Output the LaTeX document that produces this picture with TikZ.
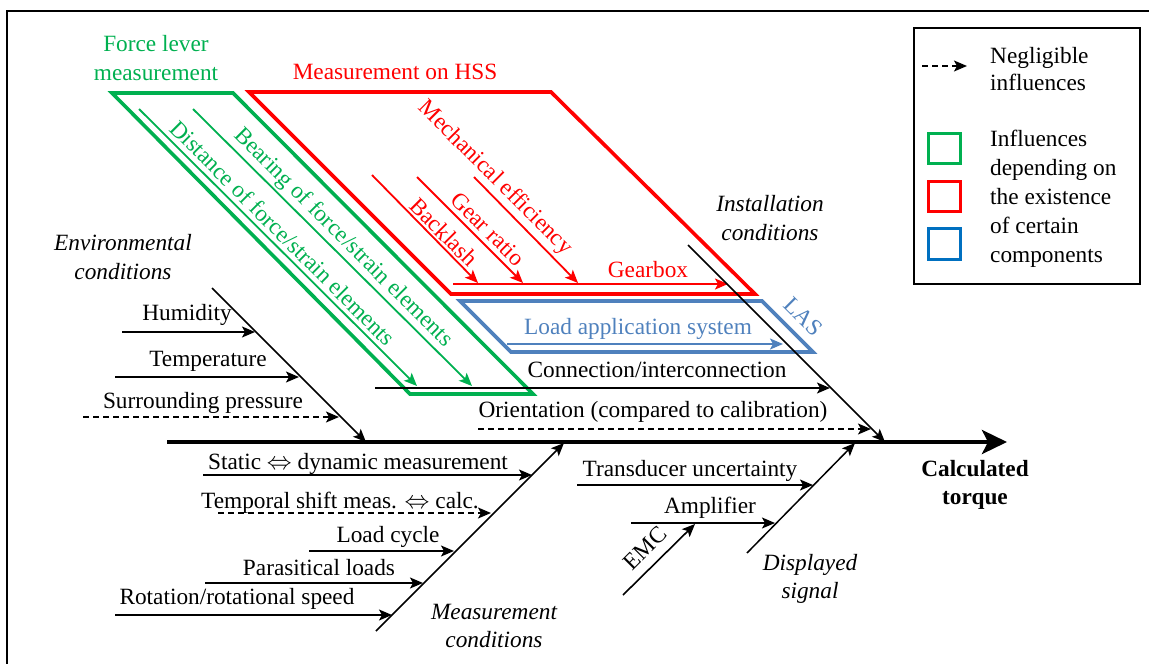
\documentclass[tikz,border=0pt]{standalone}
\usepackage{fontspec}
\setmainfont{Liberation Serif}
\usetikzlibrary{arrows.meta}
\definecolor{fgreen}{RGB}{0,176,80}
\definecolor{fred}{RGB}{255,0,0}
\definecolor{lasblue}{RGB}{79,129,189}
\definecolor{legblue}{RGB}{0,112,192}
\begin{document}
\begin{tikzpicture}[x=1pt,y=-1pt,
  font=\fontsize{23.3}{28.5}\selectfont,
  txt/.style={inner sep=0pt, anchor=center},
  tip/.style={-{Stealth[length=13pt,width=11pt,inset=3pt]}},
  bone/.style={line width=1.5pt, black},
  sub/.style={line width=1.6pt, black, tip},
  inner/.style={line width=1.8pt, tip},
  neg/.style={dash pattern=on 6pt off 4pt},
  pgram/.style={line width=3.6pt, line join=miter},
  legsq/.style={line width=3pt},
  ital/.style={font=\fontsize{23.3}{28.5}\selectfont\itshape, align=center}
]
\useasboundingbox (0,0) rectangle (1149,664);
% outer frame
\draw[line width=2pt] (7,664) -- (7,11) -- (1149,11);

% spine
\coordinate (sp0) at (167,442);
\coordinate (sp1) at (1007,442);
\draw[line width=4pt, -{Stealth[length=25pt,width=24pt,inset=6pt]}] (sp0) -- (sp1);
\node[txt, font=\fontsize{23.3}{28}\selectfont\bfseries, align=center] (ct) at (975,485) {Calculated\\torque};

% ---------- green: force lever measurement
\node[txt, fgreen, align=center] (flm) at (156,58) {Force lever\\measurement};
\draw[pgram, fgreen] (112,93) -- (233,93) -- (533,394) -- (410,394) -- cycle;
\coordinate (gd0) at (139,109); \coordinate (gd1) at (417,386);
\coordinate (gb0) at (193,109); \coordinate (gb1) at (472,386);
\draw[inner, fgreen] (gd0) -- (gd1);
\draw[inner, fgreen] (gb0) -- (gb1);
\node[txt, fgreen, rotate=-45] (gdt) at (283,233) {Distance of force/strain elements};
\node[txt, fgreen, rotate=-45] (gbt) at (343,238) {Bearing of force/strain elements};

% ---------- red: measurement on HSS
\node[txt, fred] (hss) at (395,72) {Measurement on HSS};
\draw[pgram, fred] (249,92) -- (551,92) -- (755,294) -- (451,294) -- cycle;
\coordinate (rb0) at (372,175); \coordinate (rb1) at (478,283);
\coordinate (rg0) at (417,177); \coordinate (rg1) at (523,283);
\coordinate (rm0) at (474,177); \coordinate (rm1) at (578,283);
\draw[inner, fred] (rb0) -- (rb1);
\draw[inner, fred] (rg0) -- (rg1);
\draw[inner, fred] (rm0) -- (rm1);
\node[txt, fred, rotate=-45] (rbt) at (444,232) {Backlash};
\node[txt, fred, rotate=-45] (rgt) at (488,229) {Gear ratio};
\node[txt, fred, rotate=-45] (rmt) at (495,178) {Mechanical efficiency};
\coordinate (gx0) at (453,284); \coordinate (gx1) at (728,284);
\draw[inner, fred] (gx0) -- (gx1);
\node[txt, fred] (gxt) at (648,270) {Gearbox};

% ---------- blue: LAS
\draw[pgram, lasblue] (460,301) -- (762,301) -- (813,352) -- (511,352) -- cycle;
\coordinate (la0) at (507,344); \coordinate (la1) at (783,344);
\draw[inner, lasblue] (la0) -- (la1);
\node[txt, lasblue] (lat) at (638,329) {Load application system};
\node[txt, lasblue, rotate=-45] (las) at (803,317) {LAS};

% ---------- installation conditions
\node[txt, ital] (inst) at (770,218) {Installation\\conditions};
\coordinate (in0) at (688,245); \coordinate (in1) at (885,442);
\draw[bone, tip] (in0) -- (in1);
\coordinate (cn0) at (375,388); \coordinate (cn1) at (830,388);
\draw[sub] (cn0) -- (cn1);
\node[txt] (cnt) at (657,370) {Connection/interconnection};
\coordinate (or0) at (478,429); \coordinate (or1) at (871,429);
\draw[sub, neg] (or0) -- (or1);
\node[txt] (ort) at (653,412) {Orientation (compared to calibration)};

% ---------- environmental conditions
\node[txt, ital] (env) at (123,257) {Environmental\\conditions};
\coordinate (en0) at (212,288); \coordinate (en1) at (366,442);
\draw[bone, tip] (en0) -- (en1);
\coordinate (hu0) at (122,332); \coordinate (hu1) at (255,332);
\draw[sub] (hu0) -- (hu1);
\node[txt] (hut) at (187,315) {Humidity};
\coordinate (te0) at (115,377); \coordinate (te1) at (299,377);
\draw[sub] (te0) -- (te1);
\node[txt] (tet) at (208,361) {Temperature};
\coordinate (su0) at (83,417); \coordinate (su1) at (339,417);
\draw[sub, neg] (su0) -- (su1);
\node[txt] (sut) at (203,403) {Surrounding pressure};

% ---------- measurement conditions
\node[txt, ital] (mc) at (494,626) {Measurement\\conditions};
\coordinate (mb0) at (376,631); \coordinate (mb1) at (564,443);
\draw[bone, tip] (mb0) -- (mb1);
\coordinate (st0) at (203,475); \coordinate (st1) at (532,475);
\draw[sub] (st0) -- (st1);
\node[txt] (stt) at (358,464) {Static $\Leftrightarrow$ dynamic measurement};
\coordinate (ts0) at (218,513); \coordinate (ts1) at (491,513);
\draw[sub, neg] (ts0) -- (ts1);
\node[txt] (tst) at (340,503) {Temporal shift meas. $\Leftrightarrow$ calc.};
\coordinate (lc0) at (309,551); \coordinate (lc1) at (454,551);
\draw[sub] (lc0) -- (lc1);
\node[txt] (lct) at (388,537) {Load cycle};
\coordinate (pl0) at (205,583); \coordinate (pl1) at (423,583);
\draw[sub] (pl0) -- (pl1);
\node[txt] (plt) at (319,568) {Parasitical loads};
\coordinate (ro0) at (115,615); \coordinate (ro1) at (392,615);
\draw[sub] (ro0) -- (ro1);
\node[txt] (rot) at (237,599) {Rotation/rotational speed};

% ---------- displayed signal
\node[txt, ital] (ds) at (810,579) {Displayed\\signal};
\coordinate (db0) at (747,553); \coordinate (db1) at (855,443);
\draw[bone, tip] (db0) -- (db1);
\coordinate (tr0) at (577,485); \coordinate (tr1) at (813,485);
\draw[sub] (tr0) -- (tr1);
\node[txt] (trt) at (690,471) {Transducer uncertainty};
\coordinate (am0) at (631,523); \coordinate (am1) at (775,523);
\draw[sub] (am0) -- (am1);
\node[txt] (amt) at (710,508) {Amplifier};
\coordinate (em0) at (623,595); \coordinate (em1) at (695,524);
\draw[sub] (em0) -- (em1);
\node[txt, rotate=45] (emt) at (645,548) {EMC};

% ---------- legend
\draw[line width=1.6pt] (914,28) rectangle (1140,284);
\coordinate (lg0) at (922,66); \coordinate (lg1) at (967,66);
\draw[sub, neg] (lg0) -- (lg1);
\node[txt, anchor=west, align=left, font=\fontsize{23.3}{27}\selectfont] (lgt) at (990,69) {Negligible\\influences};
\draw[legsq, fgreen] (928,133) rectangle (960,163);
\draw[legsq, fred] (928,181) rectangle (960,211);
\draw[legsq, legblue] (928,228) rectangle (960,259);
\node[txt, anchor=west, align=left, font=\fontsize{23.3}{29}\selectfont] (lgc) at (990,199) {Influences\\depending on\\the existence\\of certain\\components};
\end{tikzpicture}
\end{document}
